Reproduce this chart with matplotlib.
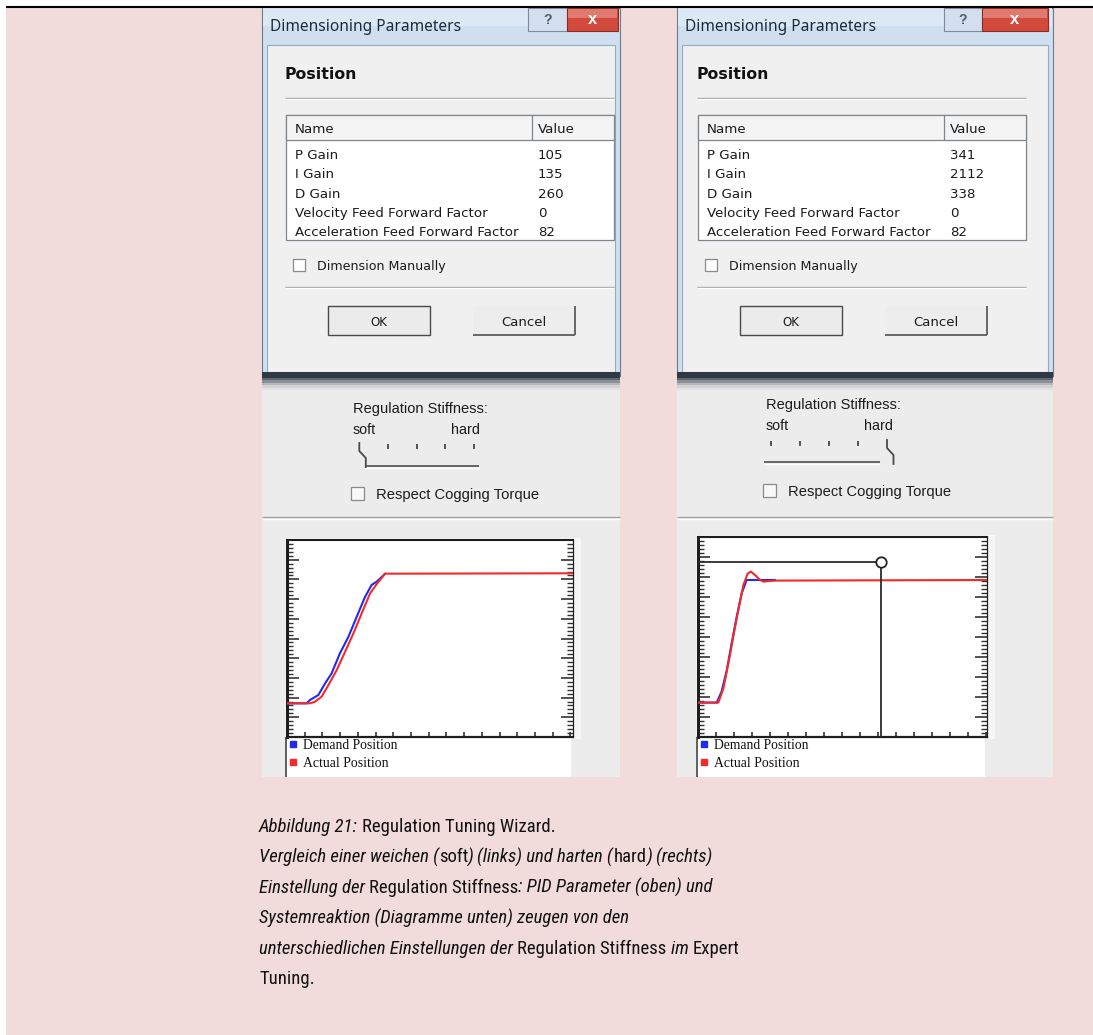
import matplotlib
matplotlib.use('Agg')
import matplotlib.pyplot as plt
from matplotlib.patches import Rectangle
from matplotlib.ticker import MultipleLocator
from matplotlib import font_manager as fm

# ---------------- data ----------------
dialog_title = "Dimensioning Parameters"
section_title = "Position"
column_names = ["Name", "Value"]
param_names = ["P Gain", "I Gain", "D Gain",
               "Velocity Feed Forward Factor", "Acceleration Feed Forward Factor"]
soft_values = [105, 135, 260, 0, 82]
hard_values = [341, 2112, 338, 0, 82]
stiffness_labels = ["soft", "hard"]
stiffness_positions = [0, 4]          # slider notch for left / right panel
series_names = ["Demand Position", "Actual Position"]

soft_demand_x = [0, 1.11, 1.30, 1.77, 2.15, 2.52, 2.99, 3.47, 3.94, 4.41, 4.78, 5.07, 5.54]
soft_demand_y = [1.71, 1.71, 1.88, 2.13, 2.72, 3.23, 4.25, 5.09, 6.11, 7.12, 7.72, 7.89, 8.29]
soft_actual_x = [0, 1.30, 1.58, 1.96, 2.34, 2.81, 3.28, 3.75, 4.22, 4.69, 5.07, 5.54, 16.2]
soft_actual_y = [1.71, 1.71, 1.79, 2.05, 2.64, 3.40, 4.33, 5.26, 6.28, 7.29, 7.77, 8.29, 8.31]

hard_demand_x = [0, 1.04, 1.31, 1.60, 1.87, 2.15, 2.43, 2.70, 4.28]
hard_demand_y = [1.72, 1.72, 2.27, 3.35, 4.68, 6.02, 7.18, 7.85, 7.85]
hard_actual_x = [0, 1.13, 1.41, 1.69, 1.96, 2.24, 2.52, 2.76, 2.94, 3.17, 3.45, 3.63, 4.28, 16.1]
hard_actual_y = [1.72, 1.72, 2.43, 3.68, 5.02, 6.35, 7.60, 8.17, 8.27, 8.10, 7.85, 7.77, 7.82, 7.85]
hard_cursor = (10.17, 8.77)

caption_lines = [
    [("Abbildung 21: ", True), ("Regulation Tuning Wizard.", False)],
    [("Vergleich einer weichen (", True), ("soft", False), (") (links) und harten (", True),
     ("hard", False), (") (rechts)", True)],
    [("Einstellung der ", True), ("Regulation Stiffness", False),
     (": PID Parameter (oben) und", True)],
    [("Systemreaktion (Diagramme unten) zeugen von den", True)],
    [("unterschiedlichen Einstellungen der ", True), ("Regulation Stiffness ", False),
     ("im ", True), ("Expert", False)],
    [("Tuning.", False)],
]

# ---------------- style ----------------
W, H = 1093, 1035
PINK = '#f2dcdb'
BLUE = '#1f2dea'
RED = '#f42a2a'
TXT = '#1b1b1b'

# pick a narrow sans family for the caption if one is installed
entries = fm.fontManager.ttflist
CAP_FONT, CAP_STRETCH = 'Liberation Sans', 'normal'
narrow_names = ['Liberation Sans Narrow', 'Arial Narrow', 'Roboto Condensed',
                'Noto Sans Condensed', 'Open Sans Condensed', 'DejaVu Sans Condensed']
found = False
for nm in narrow_names:
    if any(f.name == nm for f in entries):
        CAP_FONT, CAP_STRETCH = nm, 'normal'
        found = True
        break
if not found:
    for fam in ['Noto Sans', 'Roboto', 'Open Sans', 'DejaVu Sans']:
        for st in ['condensed', 'semi-condensed']:
            if any(f.name == fam and str(f.stretch) == st for f in entries):
                CAP_FONT, CAP_STRETCH = fam, st
                found = True
                break
        if found:
            break

UI_FONT = 'Noto Sans'
LIST_FONT = 'DejaVu Sans'
SANS = 'Liberation Sans'
SERIF = 'Liberation Serif'

fig = plt.figure(figsize=(W / 100, H / 100), dpi=100)
fig.patch.set_facecolor('white')
bg = fig.add_axes([0, 0, 1, 1])
bg.set_xlim(0, W)
bg.set_ylim(H, 0)
bg.axis('off')
renderer = fig.canvas.get_renderer()


def rect(x, y, w, h, fc, ec='none', lw=1.0, z=1):
    bg.add_patch(Rectangle((x, y), w, h, facecolor=fc, edgecolor=ec, linewidth=lw, zorder=z))


def hline(x0, x1, y, c, lw=1.0, z=2):
    bg.plot([x0, x1], [y, y], color=c, lw=lw, solid_capstyle='butt', zorder=z)


def vline(x, y0, y1, c, lw=1.0, z=2):
    bg.plot([x, x], [y0, y1], color=c, lw=lw, solid_capstyle='butt', zorder=z)


def fit_text(x, y, s, width, family, weight='normal', style='normal', color=TXT,
             ha='left', va='center_baseline', z=5):
    t = bg.text(x, y, s, fontsize=10, family=family, weight=weight, style=style,
                color=color, ha=ha, va=va, zorder=z)
    w = t.get_window_extent(renderer).width
    t.set_fontsize(10 * width / w)
    return t


# background
rect(6, 7, W - 6, H - 7, PINK, z=0)
hline(6, W, 6.5, 'black', lw=1.5)

panels = [
    dict(x0=262, x1=620, dx=0, values=soft_values, knob=stiffness_positions[0],
         help=(528, 567), close=(567, 618),
         tick0=359.3, tstep=28.7, ttop=443, track=(366, 479), track_y=466,
         label_x=353, text_y=(407, 428), hard_r=480, cog=(351, 487), cog_tx=376,
         chart=(287, 540, 286, 197), xmax=16.15,
         demand=(soft_demand_x, soft_demand_y), actual=(soft_actual_x, soft_actual_y),
         cursor=None, leg_x=293),
    dict(x0=677, x1=1053, dx=-3, values=hard_values, knob=stiffness_positions[1],
         help=(944, 982), close=(982, 1048),
         tick0=771, tstep=29.0, ttop=440, track=(764, 880), track_y=462,
         label_x=766, text_y=(403, 424), hard_r=893, cog=(763, 484), cog_tx=788,
         chart=(698, 537, 289, 200), xmax=16.06,
         demand=(hard_demand_x, hard_demand_y), actual=(hard_actual_x, hard_actual_y),
         cursor=hard_cursor, leg_x=704),
]

for p in panels:
    x0, x1, dx = p['x0'], p['x1'], p['dx']
    bx = x0 + dx
    # ---- dialog window ----
    rect(x0, 8, x1 - x0, 368, '#cfdff0', ec='#6b7b8c', lw=0.8, z=1)
    rect(x0 + 1, 8, x1 - x0 - 2, 18, '#dde8f5', z=1)
    rect(x0 + 5, 45, x1 - x0 - 10, 327, '#f0f0f0', ec='#94aac1', lw=0.8, z=2)
    fit_text(x0 + 8, 25, dialog_title, 190, UI_FONT, color='#1e2a36')
    hx0, hx1 = p['help']
    rect(hx0, 8, hx1 - hx0, 23, '#d3dfec', ec='#7d8c9c', lw=0.8, z=3)
    bg.text((hx0 + hx1) / 2, 19.5, '?', ha='center', va='center', fontsize=10,
            weight='bold', color='#4d5e70', family=SANS, zorder=4)
    cx0, cx1 = p['close']
    rect(cx0, 8, cx1 - cx0, 23, '#d24a3b', ec='#8b2b21', lw=0.8, z=3)
    rect(cx0 + 1, 8.5, cx1 - cx0 - 2, 9, '#e07a6e', z=3)
    bg.text((cx0 + cx1) / 2, 19.5, 'x', ha='center', va='center', fontsize=12,
            weight='bold', color='white', family=SANS, zorder=4)
    fit_text(bx + 23, 73, section_title, 72, 'DejaVu Sans', weight='bold', color='#111111')
    hline(bx + 23, bx + 352, 98, '#a0a0a0')
    hline(bx + 23, bx + 352, 99, '#ffffff')
    tx, tw = bx + 24, 328
    rect(tx, 115, tw, 125, 'white', ec='#7f858c', lw=0.9, z=3)
    rect(tx, 115, tw, 25, '#f4f4f4', ec='#7f858c', lw=0.9, z=3)
    vline(bx + 270, 115, 140, '#7f858c', lw=0.9, z=4)
    row_y = [154, 173, 193, 212, 231]
    ref = fit_text(bx + 33, row_y[4], param_names[4], 224, LIST_FONT)
    fs = ref.get_fontsize()
    bg.text(bx + 33, 128, column_names[0], fontsize=fs, family=LIST_FONT,
            color=TXT, va='center_baseline', zorder=5)
    bg.text(bx + 276, 128, column_names[1], fontsize=fs, family=LIST_FONT,
            color=TXT, va='center_baseline', zorder=5)
    for i in range(4):
        bg.text(bx + 33, row_y[i], param_names[i], fontsize=fs, family=LIST_FONT,
                color=TXT, va='center_baseline', zorder=5)
    for i in range(5):
        bg.text(bx + 276, row_y[i], str(p['values'][i]), fontsize=fs, family=LIST_FONT,
                color=TXT, va='center_baseline', zorder=5)
    rect(bx + 31, 259, 12, 12, 'white', ec='#8a8a8a', lw=0.9, z=3)
    fit_text(bx + 55, 265, "Dimension Manually", 128, LIST_FONT)
    hline(bx + 23, bx + 352, 287, '#a0a0a0')
    hline(bx + 23, bx + 352, 288, '#ffffff')
    rect(bx + 66, 306, 102, 29, '#ebebeb', ec='#4a4a4a', lw=1.0, z=3)
    fit_text(bx + 117, 321, "OK", 17, LIST_FONT, ha='center')
    rect(bx + 211, 306, 102, 29, '#ededed', z=3)
    hline(bx + 211, bx + 313, 334.5, '#505050', lw=1.2, z=4)
    vline(bx + 312.5, 306, 335, '#505050', lw=1.2, z=4)
    fit_text(bx + 262, 321, "Cancel", 45, LIST_FONT, ha='center')
    rect(x0, 372, x1 - x0, 6, '#2f3944', z=3)
    # ---- lower tool area ----
    rect(x0, 378, x1 - x0, 399, '#ececec', z=1)
    shades = ['#5f6770', '#8b9097', '#b3b6ba', '#d2d3d5', '#e3e3e3']
    for k, c in enumerate(shades):
        rect(x0, 378 + 2.4 * k, x1 - x0, 2.5, c, z=2)
    fit_text(p['label_x'], p['text_y'][0], "Regulation Stiffness:", 134, SANS)
    fit_text(p['label_x'], p['text_y'][1], stiffness_labels[0], 23, SANS)
    fit_text(p['hard_r'], p['text_y'][1], stiffness_labels[1], 29, SANS, ha='right')
    for i in range(5):
        xt = p['tick0'] + i * p['tstep']
        if i == p['knob']:
            t0 = p['ttop']
            bg.plot([xt, xt, xt + 6.5, xt + 6.5], [t0, t0 + 8, t0 + 15, t0 + 24],
                    color='#4a4a4a', lw=1.3, zorder=4)
        else:
            vline(xt, p['ttop'] + 0.5, p['ttop'] + 5.5, '#2a2a2a', lw=1.1, z=4)
    hline(p['track'][0], p['track'][1], p['track_y'], '#5a5a5a', lw=1.3, z=4)
    hline(p['track'][0], p['track'][1], p['track_y'] + 1.5, '#ffffff', lw=1.0, z=4)
    cgx, cgy = p['cog']
    rect(cgx, cgy, 13, 13, '#f8f8f8', ec='#8a8a8a', lw=0.9, z=3)
    fit_text(p['cog_tx'], cgy + 6.5, "Respect Cogging Torque", 163, SANS)
    hline(x0, x1, 517, '#a3a3a3', lw=1.0)
    hline(x0, x1, 518.5, '#ffffff', lw=1.0)

    # ---- response chart ----
    cx, cy, cw, ch = p['chart']
    rect(cx - 2, cy - 2, cw + 10, ch + 4, '#f7f7f7', z=1.5)
    ax = fig.add_axes([cx / W, 1 - (cy + ch) / H, cw / W, ch / H])
    ax.set_facecolor('white')
    ax.set_xlim(0, p['xmax'])
    ax.set_ylim(0, 10)
    ax.plot(p['demand'][0], p['demand'][1], color=BLUE, lw=1.5, zorder=3)
    ax.plot(p['actual'][0], p['actual'][1], color=RED, lw=1.5, zorder=4)
    if p['cursor'] is not None:
        ux, uy = p['cursor']
        ax.plot([0, ux], [uy, uy], color='#2b2b2b', lw=1.3, zorder=5)
        ax.plot([ux, ux], [0, uy], color='#2b2b2b', lw=1.3, zorder=5)
        ax.plot([ux], [uy], marker='o', ms=7.5, mfc='white', mec='#222222', mew=1.3,
                zorder=6, clip_on=False)
    ax.xaxis.set_major_locator(MultipleLocator(1))
    ax.yaxis.set_major_locator(MultipleLocator(1))
    ax.yaxis.set_minor_locator(MultipleLocator(0.2))
    ax.tick_params(axis='y', which='major', direction='in', length=8.6, width=1.1,
                   color='#222222', left=True, right=True, labelleft=False)
    ax.tick_params(axis='y', which='minor', direction='in', length=4.3, width=1.0,
                   color='#333333', left=True, right=True)
    ax.tick_params(axis='x', which='major', direction='in', length=3.6, width=1.1,
                   color='#222222', bottom=True, top=False, labelbottom=False)
    ax.tick_params(axis='x', which='minor', bottom=False, top=False)
    ax.spines['left'].set_linewidth(2.2)
    ax.spines['top'].set_linewidth(1.5)
    ax.spines['bottom'].set_linewidth(1.6)
    ax.spines['right'].set_linewidth(0.9)
    for s in ax.spines.values():
        s.set_color('#1e1e1e')
    rect(cx, cy + ch, cw - 2, 777 - (cy + ch), 'white', z=2)
    vline(cx - 1, cy + ch, 777, '#555555', lw=1.3, z=3)
    lx = p['leg_x']
    for k, (nm, col) in enumerate(zip(series_names, [BLUE, RED])):
        yy = 744 + 18 * k
        bg.plot([lx], [yy], marker='s', ms=4.3, color=col, zorder=5)
        fit_text(lx + 10, yy, nm, 94 if k == 0 else 85, SERIF, color='#111111')

# ---------------- caption ----------------
cap_x = 259
baselines = [832, 862.5, 893, 923.5, 954, 984.5]


def seg_width(s, italic, size):
    kw = dict(fontsize=size, family=CAP_FONT, fontstretch=CAP_STRETCH,
              style='italic' if italic else 'normal')
    t1 = bg.text(0, 0, '.' + s + '.', **kw)
    t2 = bg.text(0, 0, '..', **kw)
    w = t1.get_window_extent(renderer).width - t2.get_window_extent(renderer).width
    t1.remove()
    t2.remove()
    return w


base = 14
total = sum(seg_width(s, it, base) for s, it in caption_lines[1])
cap_size = base * 459 / total

for line, yb in zip(caption_lines, baselines):
    x = cap_x
    for s, it in line:
        bg.text(x, yb, s, fontsize=cap_size, family=CAP_FONT, fontstretch=CAP_STRETCH,
                style='italic' if it else 'normal', color='#111111',
                ha='left', va='baseline', zorder=5)
        x += seg_width(s, it, cap_size)

fig.savefig('out.png', dpi=100)
